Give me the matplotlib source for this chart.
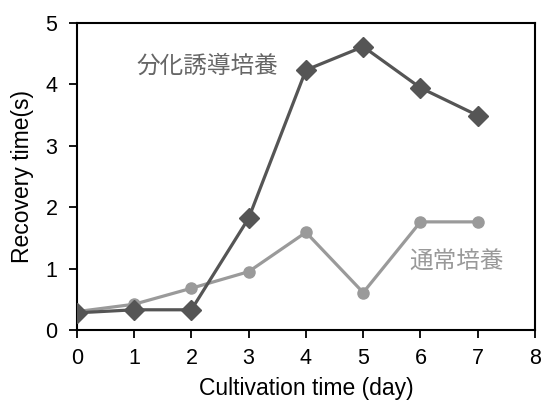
import matplotlib
matplotlib.use("Agg")
import matplotlib.pyplot as plt

plt.rcParams['font.family'] = ['Liberation Sans', 'Noto Sans CJK JP', 'DejaVu Sans']

days = [0, 1, 2, 3, 4, 5, 6, 7]
induced = [0.28, 0.33, 0.33, 1.82, 4.23, 4.61, 3.94, 3.49]
normal = [0.30, 0.42, 0.68, 0.95, 1.59, 0.61, 1.76, 1.76]

fig = plt.figure(figsize=(5.41, 4.05), dpi=100)
ax = fig.add_axes([0.142, 0.185, 0.847, 0.759])

ax.plot(days, normal, color='#9a9a9a', lw=2.3, marker='o', ms=8, zorder=2)
ax.plot(days, induced, color='#555555', lw=2.3, marker='D', ms=10.5, zorder=3)

ax.text(1.05, 4.29, '分化誘導培養', color='#666666', fontsize=17,
        family=['Noto Sans CJK JP'], va='center', ha='left')
ax.text(5.8, 1.1, '通常培養', color='#999999', fontsize=17,
        family=['Noto Sans CJK JP'], va='center', ha='left')

ax.set_xlim(0, 8)
ax.set_ylim(0, 5)
ax.set_xticks(range(0, 9))
ax.set_yticks(range(0, 6))
ax.tick_params(direction='out', length=6, width=1.3, labelsize=15.5)
ax.tick_params(axis='x', pad=7)
ax.tick_params(axis='y', pad=8)
for s in ax.spines.values():
    s.set_linewidth(1.5)
ax.set_xlabel('Cultivation time (day)', fontsize=16.5, labelpad=6)
ax.set_ylabel('Recovery time(s)', fontsize=16.5, labelpad=8)

fig.savefig('out.png', dpi=100)
